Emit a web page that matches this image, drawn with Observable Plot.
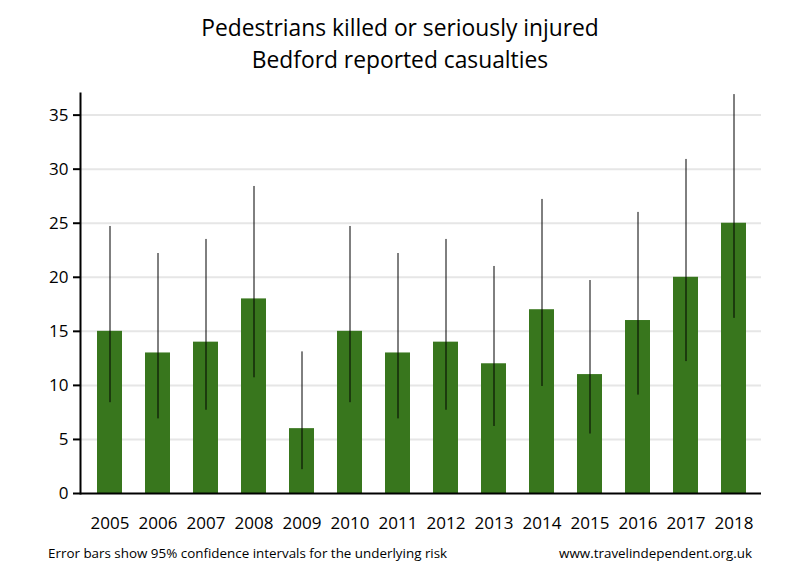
<!DOCTYPE html>
<html>
<head>
<meta charset="utf-8">
<script src="https://cdn.jsdelivr.net/npm/d3@7"></script>
<script src="https://cdn.jsdelivr.net/npm/@observablehq/plot@0.6"></script>
<style>
  body { margin: 0; background: #fff; width: 800px; font-family: "Open Sans", sans-serif; }
  #title { padding-top: 12px; height: 68px; text-align: center; font-size: 22.8px; line-height: 32px; color: #000; }
  #caption { display: flex; justify-content: space-between; padding: 0 48px 0 48px; height: 26px; line-height: 26px; font-size: 13.4px; color: #000; }
</style>
</head>
<body>
<div id="title">Pedestrians killed or seriously injured<br>Bedford reported casualties</div>
<div id="chart"></div>
<div id="caption"><span>Error bars show 95% confidence intervals for the underlying risk</span><span>www.travelindependent.org.uk</span></div>
<script>
const years = ["2005","2006","2007","2008","2009","2010","2011","2012","2013","2014","2015","2016","2017","2018"];
const casualties = [15, 13, 14, 18, 6, 15, 13, 14, 12, 17, 11, 16, 20, 25];
const lower = [8.4, 6.9, 7.7, 10.7, 2.2, 8.4, 6.9, 7.7, 6.2, 9.9, 5.5, 9.1, 12.2, 16.2];
const upper = [24.7, 22.2, 23.5, 28.4, 13.1, 24.7, 22.2, 23.5, 21.0, 27.2, 19.7, 26.0, 30.9, 36.9];
const yTicks = [0, 5, 10, 15, 20, 25, 30, 35];

const data = years.map((y, i) => ({year: y, value: casualties[i], lo: lower[i], hi: upper[i]}));

const chart = Plot.plot({
  width: 800,
  height: 460,
  marginTop: 13,
  marginBottom: 47,
  marginLeft: 80,
  marginRight: 39,
  style: {fontFamily: "Open Sans, sans-serif", fontSize: "17px", color: "#000", background: "#fff"},
  x: {domain: years, range: [80, 763.4], paddingInner: 0.485, paddingOuter: 0.361, label: null},
  y: {domain: [0, 37], label: null},
  marks: [
    Plot.ruleY(yTicks.filter(d => d > 0), {stroke: "#e6e6e6", strokeWidth: 2}),
    Plot.barY(data, {x: "year", y: "value", fill: "#38761d"}),
    Plot.ruleX(data, {x: "year", y1: "lo", y2: "hi", stroke: "#000", strokeWidth: 1}),
    Plot.ruleY([0], {stroke: "#000", strokeWidth: 2}),
    Plot.frame({anchor: "left", stroke: "#000", strokeWidth: 2}),
    Plot.axisY({ticks: yTicks, tickSize: 7, tickPadding: 5, tickFormat: d => String(d), stroke: "#000", strokeWidth: 2, fill: "#000", fontSize: 17, label: null}),
    Plot.axisX({tickSize: 0, tickPadding: 23, fill: "#000", fontSize: 17, label: null})
  ]
});
document.getElementById("chart").appendChild(chart);
</script>
</body>
</html>
